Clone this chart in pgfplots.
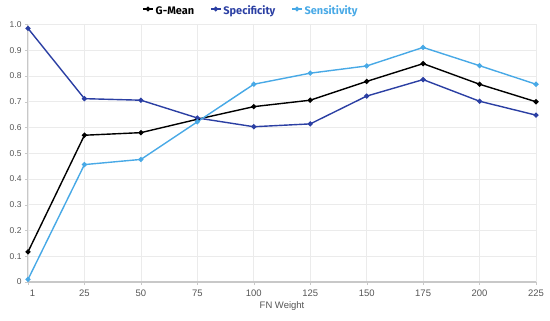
\documentclass[border=0pt]{standalone}
\usepackage{pgfplots}
\pgfplotsset{compat=1.18}
\usepackage{fontspec}
\setmainfont{Liberation Sans}
\newfontfamily\legfont{Fira Sans}
\definecolor{spec}{HTML}{2B3FA3}
\definecolor{sens}{HTML}{48A9E6}
\definecolor{tickgray}{HTML}{555555}
\definecolor{gridgray}{HTML}{EBEBEB}
\definecolor{axisgray}{HTML}{C8C8C8}
\begin{document}
\begin{tikzpicture}[x=1bp,y=1bp]
\useasboundingbox (-28,-38) rectangle (522,282);
\begin{axis}[
  at={(0,0)}, anchor=south west,
  scale only axis, width=508bp, height=257.5bp,
  xmin=0, xmax=9, ymin=0, ymax=1,
  xtick={0,...,9},
  xticklabels={\hspace*{9bp}1,25,50,75,100,125,150,175,200,225},
  ytick={0,0.1,...,1.0},
  yticklabels={0,0.1,0.2,0.3,0.4,0.5,0.6,0.7,0.8,0.9,1.0},
  grid=major,
  major grid style={gridgray, line width=0.6bp},
  axis x line*=bottom, axis y line*=left,
  x axis line style={axisgray, line width=1.2bp, -},
  y axis line style={axisgray, line width=1bp, -},
  tick style={axisgray},
  major tick length=3bp,
  xtick align=outside, ytick align=outside,
  x tick label style={font=\fontsize{9.5}{10}\selectfont, text=tickgray, yshift=-1bp},
  y tick label style={font=\fontsize{8.5}{9}\selectfont, text=tickgray},
  xlabel={FN Weight},
  xlabel style={font=\fontsize{9.5}{10}\selectfont, text=tickgray, yshift=1bp},
  legend style={at={(223bp,271bp)}, anchor=center, draw=none, fill=none,
    legend columns=3, font=\legfont\bfseries\fontsize{11}{12}\selectfont,
    /tikz/every even column/.append style={column sep=14bp}},
  legend image code/.code={\draw[#1, line width=1.3bp] (0bp,2bp) -- (10bp,2bp); \fill[#1] (5bp,2bp) circle (1.6bp);},
  every axis plot/.append style={line width=1.4bp, mark=*, mark size=1.8bp},
  clip=false,
]
\addplot[black, mark options={fill=black}] coordinates {
(0,0.117) (1,0.570) (2,0.580) (3,0.632) (4,0.681) (5,0.706) (6,0.779) (7,0.848) (8,0.768) (9,0.700)};
\addlegendentry{\textcolor{black}{G-Mean}}
\addplot[spec, mark options={fill=spec}] coordinates {
(0,0.985) (1,0.712) (2,0.706) (3,0.637) (4,0.603) (5,0.614) (6,0.722) (7,0.786) (8,0.702) (9,0.648)};
\addlegendentry{\textcolor{spec}{Specificity}}
\addplot[sens, mark options={fill=sens}] coordinates {
(0,0.010) (1,0.456) (2,0.476) (3,0.622) (4,0.768) (5,0.811) (6,0.839) (7,0.911) (8,0.840) (9,0.768)};
\addlegendentry{\textcolor{sens}{Sensitivity}}
\end{axis}
\end{tikzpicture}
\end{document}
